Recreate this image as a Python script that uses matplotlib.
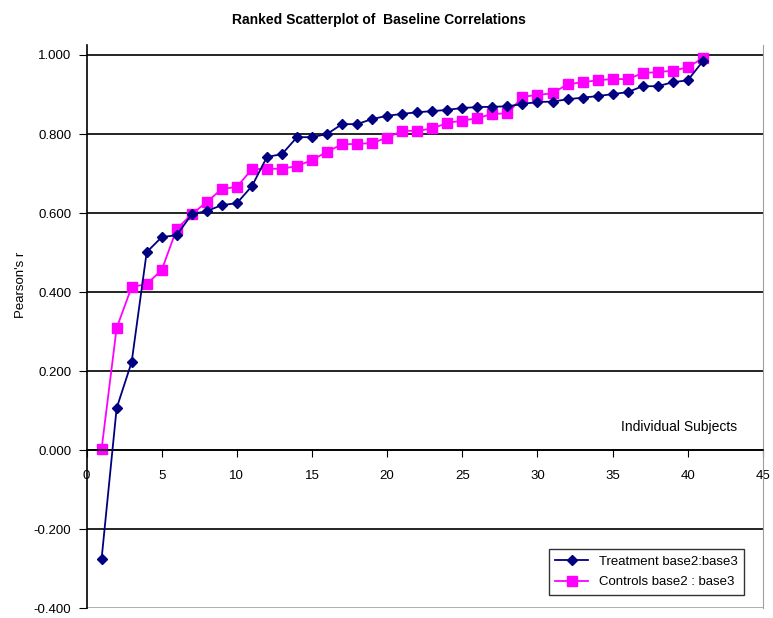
import numpy as np
import matplotlib.pyplot as plt

plt.rcParams['font.family'] = ['Liberation Sans', 'DejaVu Sans']

subjects = np.arange(1, 42)

treatment = [-0.275, 0.106, 0.223, 0.501, 0.539, 0.544, 0.597, 0.605, 0.620, 0.625,
             0.668, 0.742, 0.749, 0.792, 0.792, 0.800, 0.825, 0.825, 0.838, 0.846,
             0.851, 0.855, 0.858, 0.861, 0.866, 0.868, 0.869, 0.870, 0.876, 0.881,
             0.882, 0.888, 0.892, 0.896, 0.901, 0.906, 0.921, 0.921, 0.931, 0.936,
             0.984]

controls = [0.003, 0.309, 0.413, 0.420, 0.456, 0.560, 0.597, 0.628, 0.661, 0.666,
            0.711, 0.712, 0.712, 0.719, 0.734, 0.755, 0.774, 0.775, 0.777, 0.791,
            0.808, 0.808, 0.814, 0.828, 0.834, 0.840, 0.851, 0.852, 0.894, 0.899,
            0.903, 0.926, 0.931, 0.936, 0.939, 0.939, 0.954, 0.957, 0.960, 0.969,
            0.992]

fig = plt.figure(figsize=(7.73, 6.18), dpi=100)
ax = fig.add_axes([0.112, 0.016, 0.875, 0.911])

ax.set_xlim(0, 45)
ax.set_ylim(-0.4, 1.025)

# horizontal gridlines only
yt = np.arange(-0.4, 1.01, 0.2)
ax.set_yticks(yt)
ax.set_yticklabels(['%.3f' % v for v in yt])
for v in yt[1:]:
    ax.axhline(v, color='black', linewidth=1.2, zorder=1)

ax.plot(subjects, treatment, color='#000080', marker='D', markersize=5,
        linewidth=1.3, label='Treatment base2:base3', zorder=3)
ax.plot(subjects, controls, color='#FF00FF', marker='s', markersize=6.5,
        linewidth=1.3, label='Controls base2 : base3', zorder=2)

# x axis crosses at zero
ax.spines['bottom'].set_position(('data', 0))
ax.spines['bottom'].set_color('black')
ax.spines['bottom'].set_linewidth(1.2)
ax.spines['top'].set_visible(False)
ax.spines['right'].set_color('#a0a0a0')
ax.spines['left'].set_linewidth(1.2)
ax.axhline(-0.4, color='#a0a0a0', linewidth=1.2, zorder=1)

ax.set_xticks(np.arange(0, 46, 5))
ax.tick_params(axis='x', direction='out', length=5, pad=9, labelsize=9.5)
ax.tick_params(axis='y', direction='out', length=6, pad=5, labelsize=9.5)

ax.set_ylabel("Pearson's r", fontsize=9.5)
ax.yaxis.set_label_coords(-0.088, 0.574)
ax.text(39.4, 0.058, 'Individual Subjects', fontsize=10, ha='center', va='center')

fig.text(0.49, 0.968, 'Ranked Scatterplot of  Baseline Correlations',
         ha='center', va='center', fontsize=10, fontweight='bold')

leg = ax.legend(loc='lower right', bbox_to_anchor=(0.982, 0.012), fontsize=9.5,
                frameon=True, fancybox=False, edgecolor='black',
                borderpad=0.5, handlelength=2.5, labelspacing=0.6)
leg.get_frame().set_linewidth(1.0)

fig.savefig('out.png', dpi=100)
